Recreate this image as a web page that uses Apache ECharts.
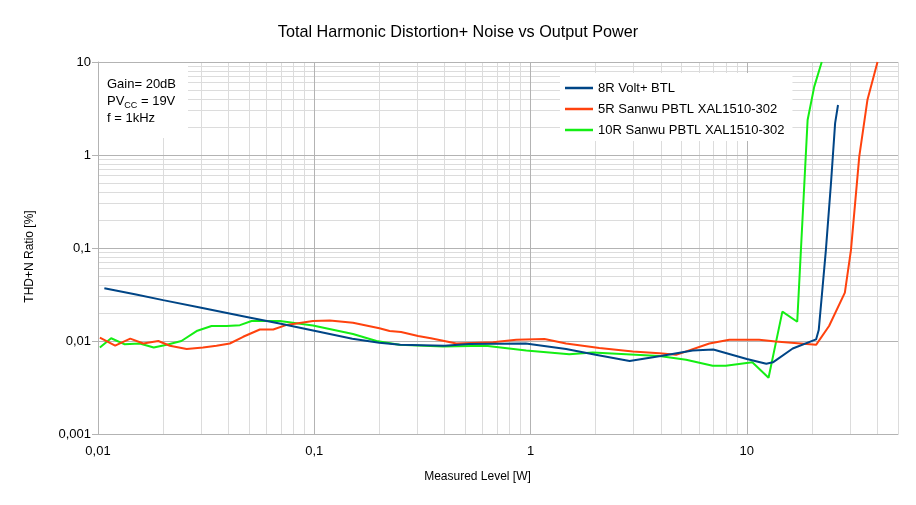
<!DOCTYPE html>
<html><head><meta charset="utf-8">
<script src="https://cdn.jsdelivr.net/npm/echarts@6/dist/echarts.min.js"></script>
<style>html,body{margin:0;padding:0;background:#fff}#c{width:916px;height:505px}</style>
</head><body><div id="c"></div>
<script>
// ---- data ----
const seriesNames = ['8R Volt+ BTL', '5R Sanwu PBTL XAL1510-302', '10R Sanwu PBTL XAL1510-302'];
const blueX = [0.0107, 0.015, 0.02, 0.03, 0.04, 0.05, 0.07, 0.1, 0.15, 0.2, 0.25, 0.4, 0.52, 0.95, 1.46, 2.0, 2.87, 4.0, 5.62, 7.0, 10, 12.3, 13.2, 16.3, 20.9, 21.5, 22.2, 23.2, 24.5, 25.6, 26.4];
const blueY = [0.037, 0.0316, 0.0275, 0.0228, 0.0199, 0.0179, 0.0153, 0.0129, 0.0106, 0.0096, 0.0091, 0.0089, 0.0093, 0.0094, 0.0082, 0.0071, 0.0061, 0.0069, 0.0079, 0.0081, 0.0064, 0.0057, 0.0059, 0.0083, 0.0104, 0.0131, 0.030, 0.095, 0.50, 2.2, 3.45];
const orangeX = [0.0102, 0.012, 0.0141, 0.0162, 0.019, 0.0215, 0.0257, 0.0306, 0.0353, 0.0407, 0.0469, 0.056, 0.0646, 0.0745, 0.0986, 0.118, 0.151, 0.2, 0.223, 0.252, 0.302, 0.346, 0.454, 0.67, 0.859, 1.16, 1.46, 2.08, 2.97, 3.94, 4.71, 6.71, 8.3, 11.4, 13.6, 20.9, 24.0, 28.4, 30.3, 33.1, 36.1, 40.2];
const orangeY = [0.0109, 0.0089, 0.0106, 0.0094, 0.0100, 0.0089, 0.0082, 0.0085, 0.0089, 0.0094, 0.0111, 0.0133, 0.0133, 0.0149, 0.0164, 0.0166, 0.0157, 0.0137, 0.0128, 0.0125, 0.0113, 0.0107, 0.0094, 0.0097, 0.0103, 0.0105, 0.0094, 0.0084, 0.0077, 0.0074, 0.0071, 0.0094, 0.0103, 0.0103, 0.0099, 0.0091, 0.0145, 0.0331, 0.095, 0.96, 3.9, 10];
const greenX = [0.0102, 0.0115, 0.0133, 0.0156, 0.0181, 0.0208, 0.0243, 0.0288, 0.0335, 0.0393, 0.0453, 0.0513, 0.0693, 0.0986, 0.151, 0.194, 0.247, 0.393, 0.62, 0.955, 1.51, 1.94, 3.94, 5.24, 6.95, 7.99, 10.6, 12.6, 14.6, 17.1, 19.1, 20.5, 22.2];
const greenY = [0.0085, 0.0107, 0.0092, 0.0094, 0.0085, 0.0091, 0.0100, 0.0129, 0.0145, 0.0145, 0.0148, 0.0164, 0.0164, 0.0147, 0.0119, 0.0100, 0.0091, 0.0087, 0.0089, 0.0079, 0.0072, 0.0075, 0.0069, 0.0063, 0.00543, 0.00543, 0.0059, 0.00403, 0.0207, 0.0161, 2.38, 5.43, 10];
const xMin = 0.01, xMax = 50, yMin = 0.001, yMax = 10;
const titleText = 'Total Harmonic Distortion+ Noise vs Output Power';
const xName = 'Measured Level [W]';
const yName = 'THD+N Ratio [%]';

// ---- grid line values (decades and 2..9 multiples) ----
function gridVals(lo, hi) {
  const major = [], minor = [];
  for (let e = Math.floor(Math.log10(lo)); e <= Math.ceil(Math.log10(hi)); e++) {
    for (let k = 1; k <= 9; k++) {
      const v = Number((k * Math.pow(10, e)).toPrecision(3));
      if (v < lo * 0.999 || v > hi * 1.001) continue;
      (k === 1 ? major : minor).push(v);
    }
  }
  return {major, minor};
}
const gx = gridVals(xMin, xMax), gy = gridVals(yMin, yMax);
const minorCol = '#dcdcdc', majorCol = '#b3b3b3';
const mlData = [];
gx.minor.forEach(v => mlData.push({xAxis: v, lineStyle: {color: minorCol}}));
gy.minor.forEach(v => mlData.push({yAxis: v, lineStyle: {color: minorCol}}));
gx.major.forEach(v => mlData.push({xAxis: v, lineStyle: {color: majorCol}}));
gy.major.forEach(v => mlData.push({yAxis: v, lineStyle: {color: majorCol}}));

function zip(xs, ys) { return xs.map((x, i) => [x, ys[i]]); }
function fmt(v) {
  const l = Math.log10(v);
  if (Math.abs(l - Math.round(l)) > 1e-6) return '';
  return String(Number(v.toPrecision(1))).replace('.', ',');
}
const font = 'Liberation Sans';
const colors = ['#004586', '#ff420e', '#14ee14'];

const chart = echarts.init(document.getElementById('c'), null, {renderer: 'canvas'});
chart.setOption({
  animation: false,
  color: colors,
  title: {text: titleText, left: 'center', top: 20,
    textStyle: {fontFamily: font, fontSize: 16.2, fontWeight: 'normal', color: '#000'}},
  grid: {left: 98, right: 18, top: 62, bottom: 71},
  legend: {
    data: seriesNames.map(n => ({name: n, icon: 'rect'})), orient: 'vertical', left: 560, top: 73, z: 100,
    backgroundColor: '#fff', padding: [8, 8, 4, 5],
    itemWidth: 28, itemHeight: 2.5, itemGap: 7,
    textStyle: {fontFamily: font, fontSize: 13, color: '#000', lineHeight: 14}
  },
  xAxis: {
    type: 'log', logBase: 10, min: xMin, max: xMax,
    axisLine: {show: true, lineStyle: {color: majorCol}},
    axisTick: {show: false},
    splitLine: {show: false},
    axisLabel: {formatter: fmt, margin: 11, fontFamily: font, fontSize: 13, color: '#000', showMaxLabel: false}
  },
  yAxis: {
    type: 'log', logBase: 10, min: yMin, max: yMax,
    axisLine: {show: true, lineStyle: {color: majorCol}},
    axisTick: {show: true, length: 6, lineStyle: {color: majorCol}},
    splitLine: {show: false},
    axisLabel: {formatter: fmt, margin: 7, fontFamily: font, fontSize: 13, color: '#000'}
  },
  graphic: [
    {type: 'rect', left: 99, top: 63, z: 50, shape: {width: 89, height: 75}, style: {fill: '#fff'}},
    {type: 'text', left: 107, top: 76, z: 51, style: {
      text: 'Gain= 20dB\nPV{sub|CC} = 19V\nf = 1kHz',
      font: '13px "Liberation Sans"', fill: '#000', lineHeight: 17,
      rich: {sub: {fontSize: 9, fontFamily: font, verticalAlign: 'bottom', padding: [6, 0, 0, 0], lineHeight: 17}}
    }},
    {type: 'text', x: 477.5, y: 477, z: 51, style: {
      text: xName, font: '12px "Liberation Sans"', fill: '#000', align: 'center', verticalAlign: 'middle'}},
    {type: 'text', x: 30, y: 256.5, rotation: Math.PI / 2, z: 51, style: {
      text: yName, font: '12px "Liberation Sans"', fill: '#000', align: 'center', verticalAlign: 'middle'}}
  ],
  series: [
    {name: '__grid', type: 'line', data: [], z: 1, silent: true,
      markLine: {silent: true, z: 1, symbol: ['none', 'none'], label: {show: false},
        lineStyle: {type: 'solid', width: 1}, data: mlData, animation: false}},
    {name: seriesNames[0], type: 'line', data: zip(blueX, blueY), showSymbol: false, symbol: 'none', z: 5,
      lineStyle: {width: 2, color: colors[0]}, itemStyle: {color: colors[0]}},
    {name: seriesNames[1], type: 'line', data: zip(orangeX, orangeY), showSymbol: false, symbol: 'none', z: 4,
      lineStyle: {width: 2, color: colors[1]}, itemStyle: {color: colors[1]}},
    {name: seriesNames[2], type: 'line', data: zip(greenX, greenY), showSymbol: false, symbol: 'none', z: 3,
      lineStyle: {width: 2, color: colors[2]}, itemStyle: {color: colors[2]}}
  ]
});
</script></body></html>
